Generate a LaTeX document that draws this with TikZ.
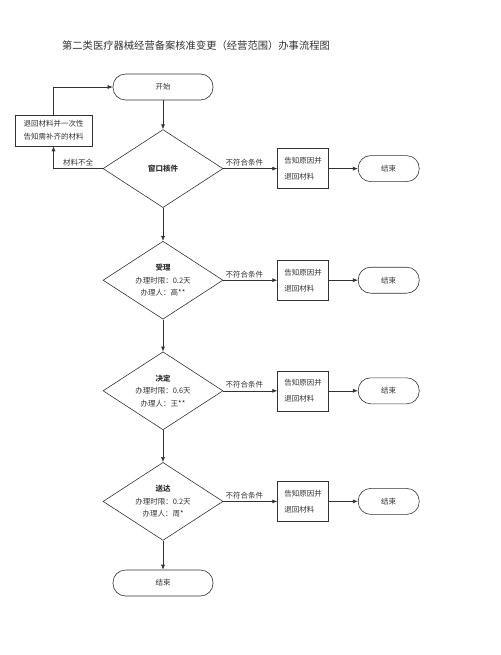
\documentclass[tikz,border=0pt]{standalone}
\usepackage{fontspec}
\setmainfont{Noto Sans CJK SC}
\usetikzlibrary{shapes.geometric,arrows.meta,positioning}

\begin{document}
\begin{tikzpicture}[
  x=1pt,y=-1pt,
  color=black!80,
  font=\fontsize{7.5}{12.5}\selectfont,
  line width=0.6pt,
  term/.style={rectangle,rounded corners=12.5pt,draw,minimum width=100pt,minimum height=26pt},
  decide/.style={diamond,draw,minimum width=120pt,minimum height=78pt,inner sep=0pt,
    shape aspect=1.5,align=center},
  note/.style={rectangle,draw,minimum width=51pt,minimum height=40pt,align=left,
    font=\fontsize{7.5}{16}\selectfont},
  lbl/.style={font=\fontsize{7.5}{9}\selectfont,inner sep=2pt},
  arr/.style={-{Latex[length=5pt,width=4pt]}}
]
\useasboundingbox (0,0) rectangle (500,655);
\node[font=\fontsize{10.3}{12}\selectfont] (title) at (196,46)
  {第二类医疗器械经营备案核准变更（经营范围）办事流程图};
\node[term] (start) at (163,87) {开始};
\node[decide,below=29pt of start] (d1) {\textbf{窗口核件}};
\node[decide,below=33pt of d1] (d2) {\textbf{受理}\\办理时限：0.2天\\办理人：高**};
\node[decide,below=32pt of d2] (d3) {\textbf{决定}\\办理时限：0.6天\\办理人：王**};
\node[decide,below=32pt of d3] (d4) {\textbf{送达}\\办理时限：0.2天\\办理人：周*};
\node[term,below=29pt of d4] (end) {结束};
\node[rectangle,draw,minimum width=77pt,minimum height=31pt,align=center,
  font=\fontsize{7.5}{13}\selectfont] (back) at (53.5,130.5)
  {退回材料并一次性\\告知需补齐的材料};
% rejected branches
\node[note,right=54pt of d1] (r1) {告知原因并\\退回材料};
\node[note,right=54pt of d2] (r2) {告知原因并\\退回材料};
\node[note,right=54pt of d3] (r3) {告知原因并\\退回材料};
\node[note,right=54pt of d4] (r4) {告知原因并\\退回材料};
\node[term,minimum width=61pt,right=29pt of r1] (e1) {结束};
\node[term,minimum width=61pt,right=29pt of r2] (e2) {结束};
\node[term,minimum width=61pt,right=29pt of r3] (e3) {结束};
\node[term,minimum width=61pt,right=29pt of r4] (e4) {结束};
\draw[arr] (start) -- (d1);
\draw[arr] (d1) -- (d2);
\draw[arr] (d2) -- (d3);
\draw[arr] (d3) -- (d4);
\draw[arr] (d4) -- (end);
\draw[arr] (d1.west) -| node[lbl,above,pos=0.25] {材料不全} (back.south);
\draw[arr] (back.north) |- (start.west);
\draw[arr] (d1.east) -- node[lbl,above right,pos=0] {不符合条件} (r1);
\draw[arr] (d2.east) -- node[lbl,above right,pos=0] {不符合条件} (r2);
\draw[arr] (d3.east) -- node[lbl,above right,pos=0] {不符合条件} (r3);
\draw[arr] (d4.east) -- node[lbl,above right,pos=0] {不符合条件} (r4);
\draw[arr] (r1) -- (e1);
\draw[arr] (r2) -- (e2);
\draw[arr] (r3) -- (e3);
\draw[arr] (r4) -- (e4);
\end{tikzpicture}
\end{document}
